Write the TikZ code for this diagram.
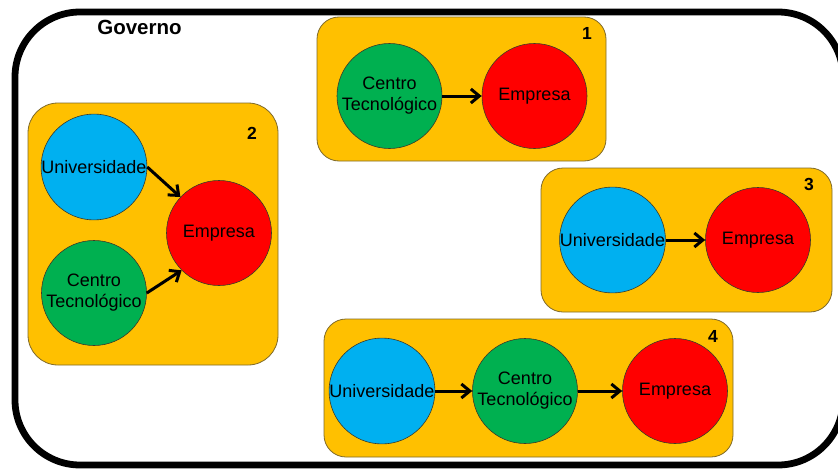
\documentclass[tikz,border=0pt]{standalone}
\usepackage{fontspec}
\setmainfont{Liberation Sans}
\usetikzlibrary{arrows.meta}
\definecolor{boxfill}{HTML}{FFC000}
\definecolor{boxline}{HTML}{7F6A2A}
\definecolor{unicol}{HTML}{00B0F0}
\definecolor{ctcol}{HTML}{00B050}
\definecolor{empcol}{HTML}{FF0000}
\definecolor{ringline}{HTML}{3A3A2A}
\tikzset{
  actor/.style={circle, minimum size=105pt, inner sep=0pt, draw=ringline, line width=0.6pt,
    align=center, font=\fontsize{18}{21}\selectfont},
  uni/.style={actor, fill=unicol},
  ctec/.style={actor, fill=ctcol},
  emp/.style={actor, fill=empcol},
  groupbox/.style={fill=boxfill, draw=boxline, line width=0.8pt, rounded corners=22pt},
  boxnum/.style={font=\fontsize{17.5}{17.5}\selectfont\bfseries, inner sep=0pt},
  flow/.style={line width=3pt, -{Straight Barb[length=8.5pt,width=14pt,line width=3pt]}}
}
\begin{document}
\begin{tikzpicture}[x=1pt,y=-1pt]
\clip (0,0) rectangle (838,471);
\fill[white] (0,0) rectangle (838,471);

% outer frame: government
\draw[line width=6.8pt, rounded corners=65pt] (15,12) rectangle (843,465);
\node[font=\fontsize{20.5}{21}\selectfont\bfseries, inner sep=0pt] (gov) at (139.5,27.5) {Governo};

% group 1
\draw[groupbox] (317,17) rectangle (606,161);
\node[boxnum] (n1) at (587,33) {1};
\node[ctec] (c1) at (389.5,96) {Centro\\Tecnológico};
\node[emp] (e1) at (534.5,96) {Empresa};
\draw[flow] (c1) -- (e1);

% group 2
\draw[groupbox, rounded corners=30pt] (28,103) rectangle (278,365);
\node[boxnum] (n2) at (252,133) {2};
\node[uni] (u2) at (94,167) {Universidade};
\node[ctec] (c2) at (94,293) {Centro\\Tecnológico};
\node[emp] (e2) at (219,233) {Empresa};
\draw[flow] (u2.east) -- (e2.137);
\draw[flow] (c2.east) -- (e2.225);

% group 3
\draw[groupbox] (541,168) rectangle (832,312);
\node[boxnum] (n3) at (809,184) {3};
\node[uni] (u3) at (612.5,240) {Universidade};
\node[emp] (e3) at (758,240) {Empresa};
\draw[flow] (u3) -- (e3);

% group 4
\draw[groupbox] (324,319) rectangle (733,457);
\node[boxnum] (n4) at (713,336) {4};
\node[uni] (u4) at (382,391) {Universidade};
\node[ctec] (c4) at (525,391) {Centro\\Tecnológico};
\node[emp] (e4) at (675,391) {Empresa};
\draw[flow] (u4) -- (c4);
\draw[flow] (c4) -- (e4);
\end{tikzpicture}
\end{document}
